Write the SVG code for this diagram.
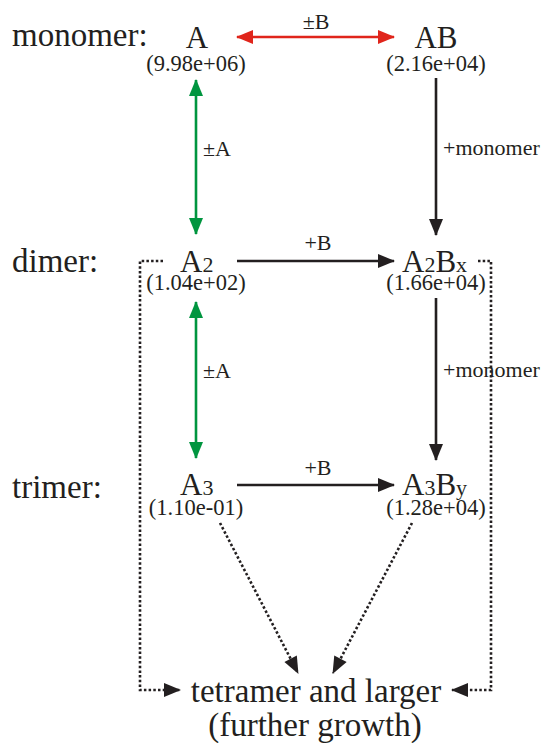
<svg xmlns="http://www.w3.org/2000/svg" width="545" height="743" viewBox="0 0 545 743" font-family="'Liberation Serif', 'Times New Roman', Times, serif">
<style>
text{font-family:'Liberation Serif','Times New Roman',Times,serif;fill:#231f20}
.big{font-size:33px}
.mid{font-size:31px}
.sub{font-size:22px}
.num{font-size:22.5px;text-anchor:middle}
.lab{font-size:22px}
.bot{font-size:33px;text-anchor:middle}
.ln{fill:none;stroke-width:2.6}
.blk{stroke:#231f20}
.dot{stroke:#231f20;stroke-dasharray:2.5 2.2;stroke-width:2.6;fill:none}
</style>
<defs>
<marker id="hk" markerUnits="userSpaceOnUse" markerWidth="20" markerHeight="20" viewBox="-18 -8 20 16" refX="0" refY="0" orient="auto-start-reverse"><path d="M1,0 L-16,-7 L-16,7 Z" fill="#231f20"/></marker>
<marker id="hr" markerUnits="userSpaceOnUse" markerWidth="20" markerHeight="20" viewBox="-18 -8 20 16" refX="0" refY="0" orient="auto-start-reverse"><path d="M1,0 L-16,-7 L-16,7 Z" fill="#e0251b"/></marker>
<marker id="hg" markerUnits="userSpaceOnUse" markerWidth="20" markerHeight="20" viewBox="-18 -8 20 16" refX="0" refY="0" orient="auto-start-reverse"><path d="M1,0 L-16,-7 L-16,7 Z" fill="#00953f"/></marker>
</defs>
<g id="row-labels">
<text class="big" x="12" y="46">monomer:</text>
<text class="big" x="12" y="272">dimer:</text>
<text class="big" x="12" y="498">trimer:</text>
</g>
<g id="node-A">
<text class="mid" x="197" y="48" text-anchor="middle">A</text>
<text class="num" x="196" y="71">(9.98e+06)</text>
</g>
<g id="node-AB">
<text class="mid" x="436" y="48" text-anchor="middle">AB</text>
<text class="num" x="436" y="71">(2.16e+04)</text>
</g>
<g id="node-A2">
<text x="180" y="272"><tspan class="mid">A</tspan><tspan class="sub">2</tspan></text>
<text class="num" x="196" y="290">(1.04e+02)</text>
</g>
<g id="node-A2Bx">
<text x="402" y="272"><tspan class="mid">A</tspan><tspan class="sub">2</tspan><tspan class="mid">B</tspan><tspan class="sub">x</tspan></text>
<text class="num" x="436" y="290">(1.66e+04)</text>
</g>
<g id="node-A3">
<text x="180" y="495"><tspan class="mid">A</tspan><tspan class="sub">3</tspan></text>
<text class="num" x="196" y="515">(1.10e-01)</text>
</g>
<g id="node-A3By">
<text x="402" y="495"><tspan class="mid">A</tspan><tspan class="sub">3</tspan><tspan class="mid">B</tspan><tspan class="sub">y</tspan></text>
<text class="num" x="436" y="515">(1.28e+04)</text>
</g>
<g id="node-tetramer">
<text class="bot" x="316" y="702">tetramer and larger</text>
<text class="bot" x="315" y="736">(further growth)</text>
</g>
<g id="connectors">
<line class="ln" stroke="#e0251b" x1="237" y1="37" x2="394" y2="37" marker-start="url(#hr)" marker-end="url(#hr)"/>
<text class="lab" x="316" y="29" text-anchor="middle">±B</text>
<line class="ln" stroke="#00953f" x1="196" y1="80" x2="196" y2="234" marker-start="url(#hg)" marker-end="url(#hg)"/>
<text class="lab" x="203" y="156">±A</text>
<line class="ln" stroke="#00953f" x1="196" y1="302" x2="196" y2="458" marker-start="url(#hg)" marker-end="url(#hg)"/>
<text class="lab" x="203" y="378">±A</text>
<line class="ln blk" x1="436" y1="78" x2="436" y2="235" marker-end="url(#hk)"/>
<text class="lab" x="443" y="155">+monomer</text>
<line class="ln blk" x1="436" y1="298" x2="436" y2="460" marker-end="url(#hk)"/>
<text class="lab" x="443" y="377">+monomer</text>
<line class="ln blk" x1="237" y1="261" x2="394" y2="261" marker-end="url(#hk)"/>
<text class="lab" x="318" y="250" text-anchor="middle">+B</text>
<line class="ln blk" x1="237" y1="485" x2="394" y2="485" marker-end="url(#hk)"/>
<text class="lab" x="318" y="475" text-anchor="middle">+B</text>
<path class="dot" d="M163,261 H140 V690 H180" marker-end="url(#hk)"/>
<path class="dot" d="M478,261 H491 V690 H452" marker-end="url(#hk)"/>
<line class="dot" x1="220" y1="523" x2="298" y2="673" marker-end="url(#hk)"/>
<line class="dot" x1="412" y1="523" x2="333" y2="673" marker-end="url(#hk)"/>
</g>
</svg>
